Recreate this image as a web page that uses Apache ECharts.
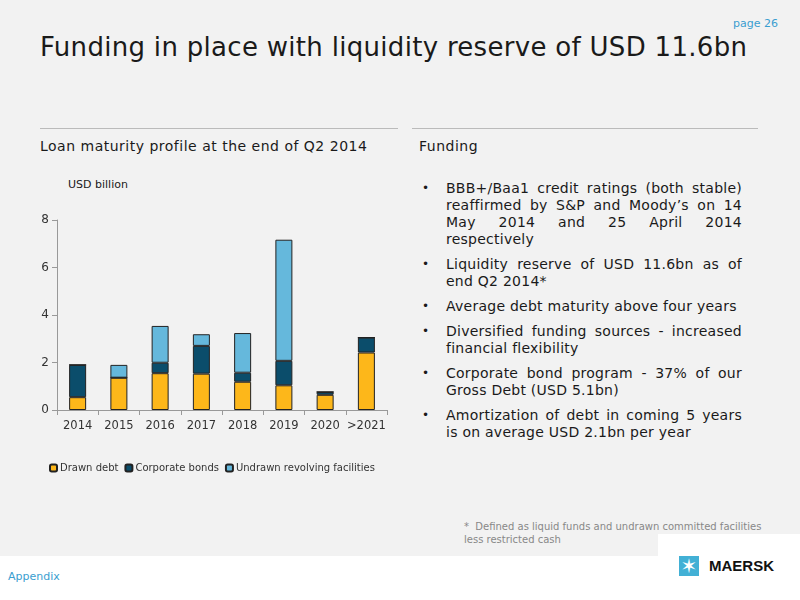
<!DOCTYPE html>
<html>
<head>
<meta charset="UTF-8">
<script src="https://cdn.jsdelivr.net/npm/echarts@6/dist/echarts.min.js"></script>
<style>
body{margin:0;width:800px;height:600px;background:#fff;font-family:"DejaVu Sans",Verdana,sans-serif;position:relative;overflow:hidden}
.slide{position:absolute;left:0;top:0;width:800px;height:556px;background:#f2f2f2}
.abs{position:absolute;white-space:nowrap}
ul{margin:0;padding:0;list-style:none}
li{position:relative;padding-left:26px;text-align:justify;font-size:14px;letter-spacing:0.25px;line-height:17px;color:#1a1a1a;margin-bottom:8px;white-space:normal}
li:before{content:"•";position:absolute;left:2px;font-size:12px}
</style>
</head>
<body>
<div class="slide"></div>
<div class="abs" style="right:22px;top:17px;font-size:11px;color:#3a9ed0">page 26</div>
<div class="abs" style="left:40px;top:32px;font-size:26px;letter-spacing:0.3px;color:#1a1a1a">Funding in place with liquidity reserve of USD 11.6bn</div>
<div class="abs" style="left:40px;top:128px;width:358px;border-top:1px solid #bbb"></div>
<div class="abs" style="left:412px;top:128px;width:346px;border-top:1px solid #bbb"></div>
<div class="abs" style="left:40px;top:138px;font-size:14px;letter-spacing:0.5px;color:#1a1a1a">Loan maturity profile at the end of Q2 2014</div>
<div class="abs" style="left:419px;top:138px;font-size:14px;letter-spacing:0.5px;color:#1a1a1a">Funding</div>
<div class="abs" style="left:68px;top:178px;font-size:11px;color:#1a1a1a">USD billion</div>
<div id="main" class="abs" style="left:0;top:200px;width:410px;height:290px"></div>
<div class="abs" style="left:420px;top:180px;width:322px;white-space:normal">
<ul>
<li>BBB+/Baa1 credit ratings (both stable) reaffirmed by S&amp;P and Moody’s on 14 May 2014 and 25 April 2014 respectively</li>
<li>Liquidity reserve of USD 11.6bn as of end Q2 2014*</li>
<li>Average debt maturity above four years</li>
<li>Diversified funding sources - increased financial flexibility</li>
<li>Corporate bond program - 37% of our Gross Debt (USD 5.1bn)</li>
<li>Amortization of debt in coming 5 years is on average USD 2.1bn per year</li>
</ul>
</div>
<div class="abs" style="left:464px;top:520px;width:310px;font-size:10px;line-height:13px;color:#888;white-space:normal">*&nbsp; Defined as liquid funds and undrawn committed facilities less restricted cash</div>
<div class="abs" style="left:658px;top:534px;width:142px;height:22px;background:#fff"></div>
<div class="abs" style="left:8px;top:570px;font-size:11px;color:#3a9ed0">Appendix</div>
<div class="abs" style="left:679px;top:556px;width:20px;height:20px;background:#42b0d5;color:#fff;font-size:20px;line-height:20px;text-align:center">✶</div>
<div class="abs" style="left:709px;top:557px;font-size:15px;font-weight:bold;color:#111;font-family:'Liberation Sans',Arial,sans-serif">MAERSK</div>
<script>
var years = ['2014','2015','2016','2017','2018','2019','2020','>2021'];
var drawnDebt = [0.54, 1.36, 1.55, 1.53, 1.19, 1.04, 0.64, 2.42];
var corporateBonds = [1.36, 0, 0.44, 1.17, 0.38, 1.03, 0.12, 0.63];
var undrawnFacilities = [0, 0.54, 1.55, 0.49, 1.67, 5.1, 0, 0];

var myChart = echarts.init(document.getElementById('main'));
function bar(name, data, color) {
    return {name: name, type: 'bar', stack: 'a', data: data, barWidth: 17,
        itemStyle: {color: color, borderColor: '#222', borderWidth: 1}};
}
myChart.setOption({
    animation: false,
    textStyle: {fontFamily: 'DejaVu Sans'},
    grid: {left: 57, right: 23, top: 20, bottom: 80},
    legend: {top: 258, left: 44, itemWidth: 7, itemHeight: 7, itemGap: 6,
        textStyle: {fontSize: 10, color: '#333', padding: [0, 0, 0, -2]},
        data: ['Drawn debt', 'Corporate bonds', 'Undrawn revolving facilities']},
    xAxis: {type: 'category', data: years,
        axisLine: {lineStyle: {color: '#999'}}, axisTick: {show: true, lineStyle: {color: '#999'}},
        axisLabel: {interval: 0, fontSize: 11.5, color: '#333', margin: 10}},
    yAxis: {type: 'value', min: 0, max: 8, interval: 2,
        axisLine: {show: true, lineStyle: {color: '#999'}}, axisTick: {show: true},
        splitLine: {show: false}, axisLabel: {fontSize: 12, color: '#333'}},
    series: [
        bar('Drawn debt', drawnDebt, '#fdb71a'),
        bar('Corporate bonds', corporateBonds, '#0b4d6b'),
        bar('Undrawn revolving facilities', undrawnFacilities, '#65b8dc')
    ]
});
</script>
</body>
</html>
